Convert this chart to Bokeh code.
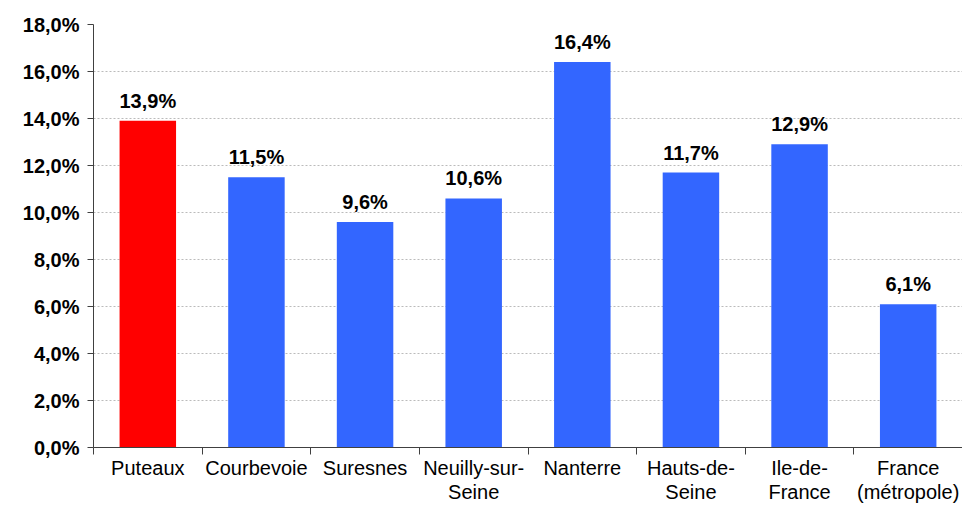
from bokeh.plotting import figure
from bokeh.models import Range1d, FixedTicker, ColumnDataSource
from bokeh.core.properties import value
from bokeh.embed import file_html
from bokeh.resources import INLINE

categories = ["Puteaux", "Courbevoie", "Suresnes", "Neuilly-sur-\nSeine", "Nanterre",
              "Hauts-de-\nSeine", "Ile-de-\nFrance", "France\n(métropole)"]
values = [13.9, 11.5, 9.6, 10.6, 16.4, 11.7, 12.9, 6.1]
value_labels = ["13,9%", "11,5%", "9,6%", "10,6%", "16,4%", "11,7%", "12,9%", "6,1%"]
colors = ["#FF0000"] + ["#3366FF"] * 7
y_ticks = [0, 2, 4, 6, 8, 10, 12, 14, 16, 18]
y_tick_labels = ["0,0%", "2,0%", "4,0%", "6,0%", "8,0%", "10,0%", "12,0%", "14,0%", "16,0%", "18,0%"]

FONT = "Liberation Sans"
n = len(categories)
xs = [i + 0.5 for i in range(n)]

src = ColumnDataSource(dict(x=xs, top=values, color=colors, label=value_labels))

p = figure(width=962, height=505, output_backend="svg", toolbar_location=None,
           x_range=Range1d(0, n), y_range=Range1d(0, 18),
           min_border_left=93, min_border_right=0, min_border_top=24, min_border_bottom=53)
p.outline_line_color = None
p.background_fill_color = "white"
p.border_fill_color = "white"

p.vbar(x="x", top="top", width=0.52, bottom=0, fill_color="color", line_color=None, source=src)
p.text(x="x", y="top", text="label", source=src, text_align="center", text_baseline="bottom",
       y_offset=-9, text_font=value(FONT), text_font_size="20px", text_font_style="bold",
       text_color="#000000")

# x axis
p.xaxis.ticker = FixedTicker(ticks=xs, minor_ticks=list(range(n + 1)))
p.xaxis.major_label_overrides = {x: c for x, c in zip(xs, categories)}
p.xaxis.major_tick_out = 0
p.xaxis.major_tick_in = 0
p.xaxis.minor_tick_out = 7
p.xaxis.minor_tick_in = 0
p.xaxis.minor_tick_line_color = "#404040"
p.xaxis.axis_line_color = "#404040"
p.xaxis.axis_line_width = 1
p.xaxis.major_label_standoff = 2
p.xaxis.major_label_text_font = FONT
p.xaxis.major_label_text_font_size = "20px"
p.xaxis.major_label_text_color = "#000000"
p.xaxis.major_label_text_line_height = 1.1

# y axis
p.yaxis.ticker = FixedTicker(ticks=y_ticks, minor_ticks=[])
p.yaxis.major_label_overrides = {t: l for t, l in zip(y_ticks, y_tick_labels)}
p.yaxis.major_tick_out = 6
p.yaxis.major_tick_in = 0
p.yaxis.major_tick_line_color = "#404040"
p.yaxis.axis_line_color = "#404040"
p.yaxis.major_label_standoff = 8
p.yaxis.major_label_text_font = FONT
p.yaxis.major_label_text_font_size = "20px"
p.yaxis.major_label_text_font_style = "bold"
p.yaxis.major_label_text_color = "#000000"

p.xgrid.grid_line_color = None
p.ygrid.grid_line_color = "#BBBBBB"
p.ygrid.grid_line_dash = "2 2"
p.ygrid.grid_line_width = 1

open("out.html", "w").write(file_html(p, INLINE))
